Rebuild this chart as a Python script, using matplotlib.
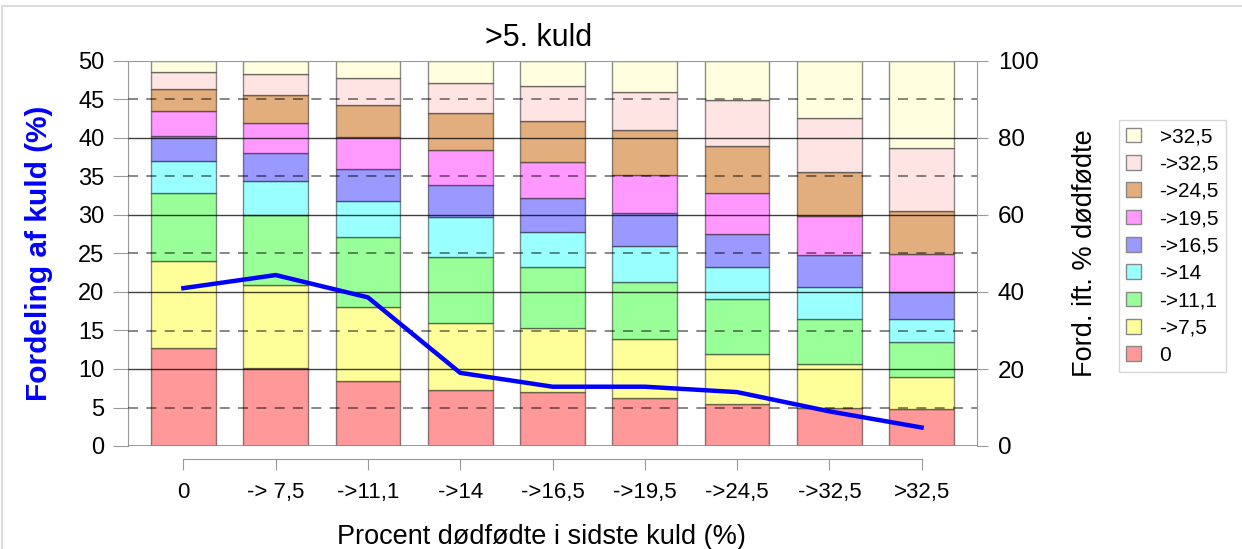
import matplotlib
matplotlib.use("Agg")
import matplotlib.pyplot as plt
import numpy as np
from matplotlib.patches import Rectangle

plt.rcParams['font.family'] = ['Liberation Sans', 'DejaVu Sans']

# categories on the x axis (percent stillborn in last litter)
categories = ['0', '-> 7,5', '->11,1', '->14', '->16,5', '->19,5', '->24,5', '->32,5', '>32,5']

# distribution of litters (%), left axis
fordeling = [20.5, 22.2, 19.3, 9.5, 7.7, 7.7, 7.0, 4.5, 2.4]

# stacked shares (%), right axis, bottom -> top
legend_labels = ['0', '->7,5', '->11,1', '->14', '->16,5', '->19,5', '->24,5', '->32,5', '>32,5']
seg_0    = [25.4, 20.2, 16.9, 14.5, 14.1, 12.5, 10.8,  9.8,  9.5]
seg_7_5  = [22.7, 21.6, 19.1, 17.4, 16.6, 15.2, 13.0, 11.4,  8.5]
seg_11_1 = [17.5, 18.2, 18.4, 17.3, 15.9, 15.0, 14.3, 11.7,  9.1]
seg_14   = [ 8.4,  8.9,  9.3, 10.2,  9.1,  9.2,  8.3,  8.5,  5.8]
seg_16_5 = [ 6.6,  7.3,  8.2,  8.4,  8.6,  8.5,  8.7,  8.2,  7.0]
seg_19_5 = [ 6.4,  7.6,  8.4,  9.1,  9.5, 10.0, 10.7, 10.2,  9.9]
seg_24_5 = [ 5.7,  7.4,  8.4,  9.5, 10.6, 11.7, 12.1, 11.4, 11.2]
seg_32_5 = [ 4.4,  5.4,  6.8,  7.9,  9.2,  9.9, 12.0, 14.1, 16.3]
seg_over = [ 2.9,  3.4,  4.5,  5.7,  6.4,  8.0, 10.1, 14.7, 22.7]
segments = [seg_0, seg_7_5, seg_11_1, seg_14, seg_16_5, seg_19_5, seg_24_5, seg_32_5, seg_over]

colors = ['#FF9999', '#FFFF99', '#99FF99', '#99FFFF', '#9999FF', '#FF99FF',
          '#E3AE7D', '#FFE4E4', '#FFFFE0']

fig = plt.figure(figsize=(12.42, 5.49), dpi=100)
ax = fig.add_axes([128/1242, 1-446/549, (977-128)/1242, (446-61)/549])
ax2 = ax.twinx()

x = np.arange(len(categories))
bottom = np.zeros(len(categories))
handles = []
for seg, col, lab in zip(segments, colors, legend_labels):
    b = ax.bar(x, seg, 0.70, bottom=bottom, color=col, edgecolor=(0, 0, 0, 0.45),
               linewidth=1, label=lab, zorder=2)
    handles.append(b)
    bottom += np.array(seg)

# grid lines on top of the bars
for v in [20, 40, 60, 80]:
    ax.axhline(v, color='black', lw=1, alpha=0.75, zorder=3)
for v in [10, 30, 50, 70, 90]:
    ax.axhline(v, color='black', lw=1.2, ls=(0, (6, 5)), alpha=0.55, zorder=3)
ax.axhline(0, color='#888888', lw=1.2, zorder=3)

ax.set_xlim(-0.6, 8.6)
ax.set_ylim(0, 100)
ax.yaxis.tick_right()
ax.yaxis.set_label_position('right')
ax.set_yticks(range(0, 101, 20))
ax.tick_params(axis='y', length=8, color='#999999', labelsize=17.5, pad=7)
ax.set_ylabel('Ford. ift. % dødfødte', fontsize=19.5, labelpad=24)

ax.set_xticks(x)
ax.set_xticklabels(categories)
ax.spines['bottom'].set_position(('outward', 9))
ax.spines['bottom'].set_bounds(0, 8)
ax.spines['bottom'].set_color('#999999')
ax.tick_params(axis='x', length=8, color='#999999', labelsize=16, pad=9)
ax.set_xlabel('Procent dødfødte i sidste kuld (%)', fontsize=19.5, labelpad=15)
ax.xaxis.label.set_x(0.487)
for s in ['top', 'left', 'right']:
    ax.spines[s].set_color('#999999')

# line on the left axis
ax2.plot(x, fordeling, color='#0000FF', lw=3.2, zorder=5)
ax2.set_ylim(0, 50)
ax2.yaxis.tick_left()
ax2.yaxis.set_label_position('left')
ax2.set_yticks(range(0, 51, 5))
ax2.tick_params(axis='y', length=11, color='#999999', labelsize=17, pad=6)
ax2.set_ylabel('Fordeling af kuld (%)', fontsize=21.5, color='#0000FF',
               fontweight='bold', labelpad=18)
for s in ax2.spines.values():
    s.set_visible(False)

ax.set_title('>5. kuld', fontsize=22, pad=11, x=0.483)

leg = fig.legend(handles[::-1], legend_labels[::-1], loc='upper left',
                 bbox_to_anchor=(1119/1242, 1-120/549), borderaxespad=0,
                 fontsize=15, frameon=True, fancybox=False, edgecolor='#cccccc',
                 handlelength=0.7, handleheight=0.7, labelspacing=0.4,
                 borderpad=0.35, handletextpad=0.9)
for h in leg.legend_handles:
    h.set_edgecolor('#888888')

fig.patches.append(Rectangle((2/1242, -0.01), 1.0, 1 - 6/549 + 0.01,
                             transform=fig.transFigure, fill=False,
                             edgecolor='#d5d5d5', lw=1.2))

fig.savefig('out.png', dpi=100)
